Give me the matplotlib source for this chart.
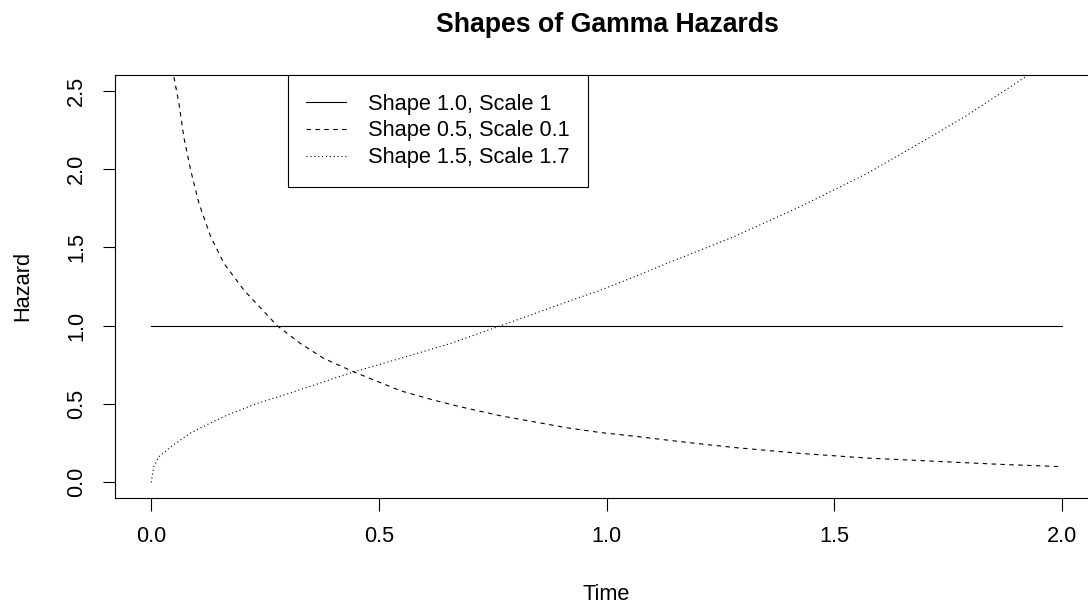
import matplotlib
matplotlib.use("Agg")
import matplotlib.pyplot as plt

plt.rcParams['font.family'] = ['Liberation Sans', 'DejaVu Sans']

# values
t_const = [0.0, 2.0]
h_const = [1.0, 1.0]

t_dec = [0.050, 0.061, 0.072, 0.087, 0.105, 0.131, 0.160, 0.204, 0.277, 0.328,
         0.379, 0.445, 0.547, 0.620, 0.679, 0.767, 0.913, 0.986, 1.059, 1.132,
         1.198, 1.278, 1.424, 1.571, 1.717, 1.863, 2.0]
h_dec = [2.587, 2.42, 2.20, 1.99, 1.78, 1.566, 1.397, 1.226, 0.999, 0.886,
         0.791, 0.705, 0.585, 0.525, 0.482, 0.425, 0.348, 0.318, 0.295, 0.27,
         0.248, 0.223, 0.185, 0.155, 0.135, 0.115, 0.10]

t_inc = [0.0, 0.006, 0.017, 0.028, 0.047, 0.087, 0.131, 0.167, 0.233, 0.291,
         0.357, 0.416, 0.445, 0.547, 0.657, 0.767, 0.913, 0.986, 1.059, 1.132,
         1.278, 1.424, 1.571, 1.717, 1.790, 1.863, 1.925]
h_inc = [0.0, 0.10, 0.163, 0.190, 0.235, 0.316, 0.38, 0.429, 0.504, 0.557,
         0.62, 0.678, 0.705, 0.791, 0.886, 0.999, 1.152, 1.226, 1.31, 1.397,
         1.566, 1.758, 1.97, 2.215, 2.34, 2.48, 2.598]

labels = ["Shape 1.0, Scale 1", "Shape 0.5, Scale 0.1", "Shape 1.5, Scale 1.7"]
xticks = [0.0, 0.5, 1.0, 1.5, 2.0]
yticks = [0.0, 0.5, 1.0, 1.5, 2.0, 2.5]

W, H = 1088, 605
fig = plt.figure(figsize=(W / 100, H / 100), dpi=100)
ax = fig.add_axes([114.7 / W, (H - 498) / H, (1098.5 - 114.7) / W, (498 - 75) / H])

fs = 15.7
lw = 0.8
ax.plot(t_const, h_const, color='black', lw=lw, linestyle='-', label=labels[0])
ax.plot(t_dec, h_dec, color='black', lw=lw, linestyle=(0, (4, 4)), label=labels[1])
ax.plot(t_inc, h_inc, color='black', lw=lw, linestyle=(0, (1, 2.5)), label=labels[2])

ax.set_xlim(-0.08, 2.08)
ax.set_ylim(-0.1, 2.6)
ax.set_xticks(xticks)
ax.set_xticklabels([f"{v:.1f}" for v in xticks])
ax.set_yticks(yticks)
ax.set_yticklabels([f"{v:.1f}" for v in yticks], rotation=90, va='center')
ax.tick_params(length=9, width=0.8, labelsize=fs, colors='black', pad=11)
for s in ax.spines.values():
    s.set_linewidth(0.8)

fig.text(606 / W, 1 - 600 / H, "Time", ha='center', va='baseline', fontsize=fs)
fig.text(28 / W, 1 - 286 / H, "Hazard", ha='center', va='baseline', fontsize=fs,
         rotation=90, rotation_mode='anchor')
fig.text(607 / W, 1 - 32 / H, "Shapes of Gamma Hazards", ha='center', va='baseline',
         fontsize=19.2, fontweight='bold')

leg = ax.legend(loc='upper left', bbox_to_anchor=(0.3, 2.6), bbox_transform=ax.transData,
                borderaxespad=0, fancybox=False, edgecolor='black', framealpha=1,
                fontsize=fs, handlelength=1.83, handletextpad=1.0, labelspacing=0.27,
                borderpad=0.85)
leg.get_frame().set_linewidth(0.8)

fig.savefig("out.png", dpi=100)
